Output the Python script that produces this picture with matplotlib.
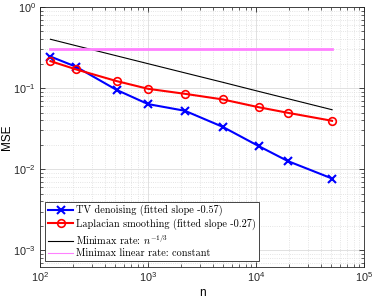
import numpy as np
import matplotlib.pyplot as plt
from matplotlib.font_manager import FontProperties

n = [125, 216, 512, 1000, 2197, 4913, 10648, 19683, 50653]
mse_tv = [0.245, 0.183, 0.095, 0.0635, 0.0525, 0.0333, 0.0192, 0.0126, 0.00767]
mse_lap = [0.215, 0.17, 0.122, 0.098, 0.085, 0.0725, 0.058, 0.0496, 0.0395]
minimax = [0.4, 0.333, 0.25, 0.2, 0.154, 0.118, 0.0909, 0.0741, 0.0541]
minimax_linear = [0.3, 0.3]
n_linear = [125, 50653]

plt.rcParams['font.family'] = ['Liberation Sans', 'DejaVu Sans']
plt.rcParams['font.size'] = 8

fig = plt.figure(figsize=(3.74, 2.98), dpi=100)
ax = fig.add_axes([40 / 374, 31.5 / 298, 324 / 374, 259.5 / 298])

ax.plot(n, mse_tv, color='#0000ff', lw=1.5, marker='x', ms=6, mew=1.5,
        label='TV denoising (fitted slope -0.57)')
ax.plot(n, mse_lap, color='#ff0000', lw=1.5, marker='o', ms=5.5, mew=1.2,
        mfc='none', label='Laplacian smoothing (fitted slope -0.27)')
ax.plot(n, minimax, color='black', lw=0.8, label=r'Minimax rate: $n^{-1/3}$')
ax.plot(n_linear, minimax_linear, color='#ff80ff', lw=2,
        label='Minimax linear rate: constant')

ax.set_xscale('log')
ax.set_yscale('log')
ax.set_xlim(1e2, 1e5)
ax.set_ylim(10 ** -3.2, 1)
ax.set_xlabel('n', labelpad=2, fontsize=8.5)
ax.set_ylabel('MSE', fontsize=8.5)
ax.yaxis.set_label_coords(-0.084, 0.5)

ax.grid(True, which='major', color='#dcdcdc', lw=0.6, ls='-')
ax.grid(True, which='minor', color='#dcdcdc', lw=0.6, ls=':')
ax.set_axisbelow(True)
ax.tick_params(which='both', direction='in', top=True, right=True,
               colors='#262626', labelcolor='#262626', labelsize=7.8)
ax.tick_params(which='major', length=3.5, width=0.6, pad=3)
ax.tick_params(which='minor', length=2, width=0.5)
for s in ax.spines.values():
    s.set_color('#262626')
    s.set_linewidth(0.6)

prop = FontProperties(family=['cmr10', 'DejaVu Serif'], size=7.4, math_fontfamily='cm')
leg = ax.legend(loc='lower left', prop=prop, fancybox=False, framealpha=1,
                edgecolor='#262626', handlelength=2.4, handletextpad=0.3,
                borderaxespad=0.5, borderpad=0.3, labelspacing=0.22)
leg.get_frame().set_linewidth(0.6)
leg.legend_handles[3].set_linewidth(0.8)

fig.savefig('out.png', dpi=100)
